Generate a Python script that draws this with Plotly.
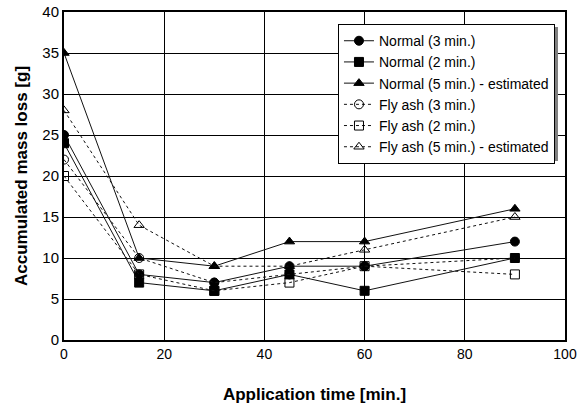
import plotly.graph_objects as go

# Application time [min.]
time_min = [0, 15, 30, 45, 60, 90]

# Accumulated mass loss [g]
normal_3 = [25, 8, 7, 9, 9, 12]
normal_2 = [24, 7, 6, 8, 6, 10]
normal_5 = [35, 10, 9, 12, 12, 16]
flyash_3 = [22, 10, 7, 8, 9, 10]
flyash_2 = [20, 8, 6, 7, 9, 8]
flyash_5 = [28, 14, 9, 9, 11, 15]

series = [
    ("Normal (3 min.)", normal_3, "solid", "circle"),
    ("Normal (2 min.)", normal_2, "solid", "square"),
    ("Normal (5 min.) - estimated", normal_5, "solid", "triangle-up"),
    ("Fly ash (3 min.)", flyash_3, "dot", "circle-open"),
    ("Fly ash (2 min.)", flyash_2, "dot", "square-open"),
    ("Fly ash (5 min.) - estimated", flyash_5, "dot", "triangle-up-open"),
]

fig = go.Figure()
for name, vals, dash, sym in series:
    fig.add_trace(go.Scatter(
        x=time_min, y=vals, name=name, mode="lines+markers",
        line=dict(color="#111111", width=1, dash=dash),
        marker=dict(symbol=sym, size=9, color="black",
                    line=dict(color="black", width=1)),
    ))

font = "Liberation Sans, Arial, sans-serif"

# legend drop shadow
fig.add_shape(type="rect", xref="paper", yref="paper",
              x0=0.551, x1=0.986, y0=0.546, y1=0.954,
              fillcolor="#7f7f7f", line=dict(width=0), layer="above")

fig.update_layout(
    width=577, height=416,
    margin=dict(l=64, r=12, t=12, b=76),
    paper_bgcolor="white", plot_bgcolor="white",
    font=dict(family=font, size=14, color="black"),
    showlegend=True,
    legend=dict(x=0.98, xanchor="right", y=0.963, yanchor="top",
                bgcolor="white", bordercolor="black", borderwidth=1,
                font=dict(size=14, family=font), tracegroupgap=0,
                itemwidth=30),
    xaxis=dict(range=[0, 100], dtick=20, showgrid=True, gridcolor="black",
               gridwidth=1, zeroline=False, showline=True, linecolor="black",
               linewidth=2, mirror=True, ticks="", tickfont=dict(size=14),
               automargin=False,
               title=dict(text="<b>Application time [min.]</b>",
                          font=dict(size=17), standoff=27)),
    yaxis=dict(range=[0, 40], dtick=5, showgrid=True, gridcolor="black",
               gridwidth=1, zeroline=False, showline=True, linecolor="black",
               linewidth=2, mirror=True, ticks="", tickfont=dict(size=15),
               automargin=False,
               title=dict(text="<b>Accumulated mass loss [g]</b>",
                          font=dict(size=17), standoff=10)),
)

fig.write_html("out.html")
